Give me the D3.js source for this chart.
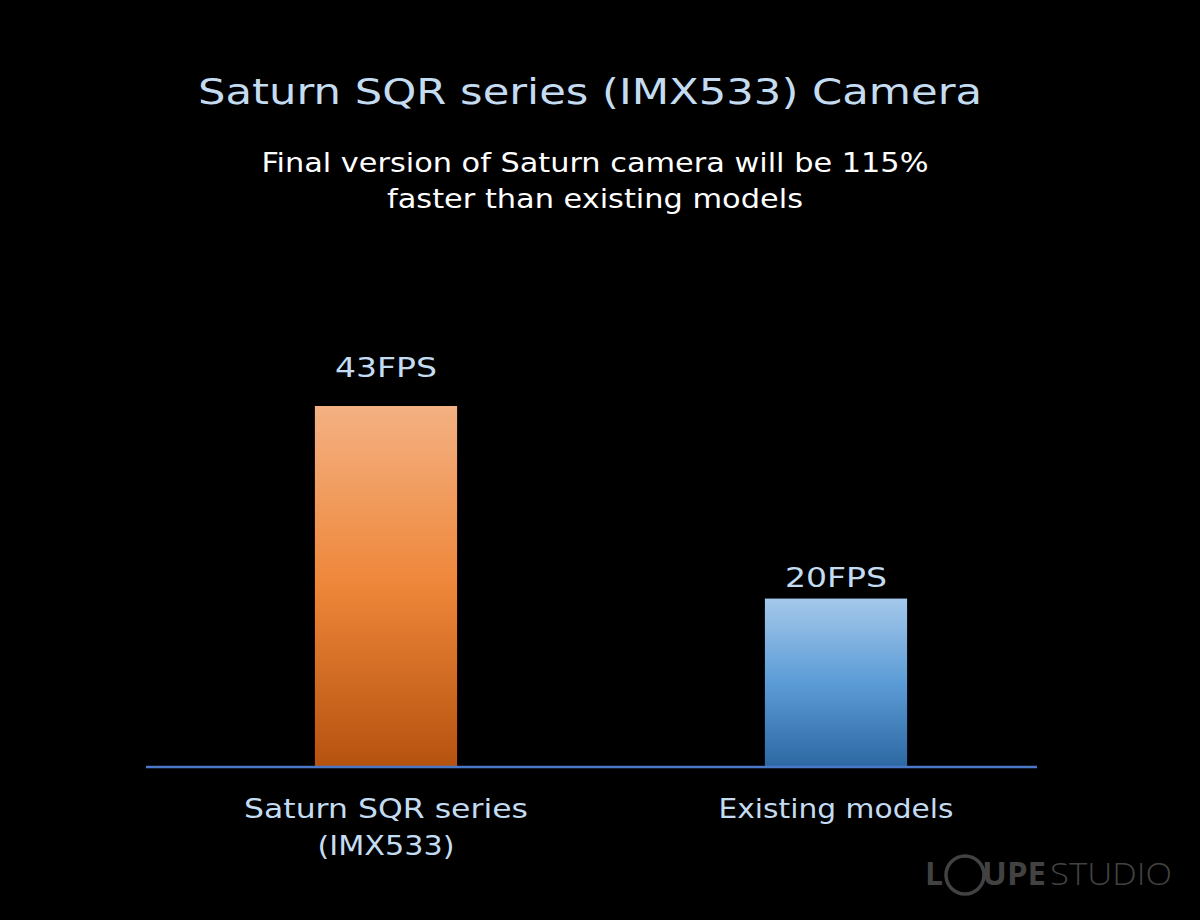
<!DOCTYPE html>
<html><head><meta charset="utf-8">
<script src="https://cdn.jsdelivr.net/npm/d3@7/dist/d3.min.js"></script>
<style>html,body{margin:0;padding:0;background:#000;}svg{display:block;}</style>
</head><body>
<script>
const categories = [["Saturn SQR series", "(IMX533)"], ["Existing models"]];
const categoryKeys = ["Saturn SQR series (IMX533)", "Existing models"];
const values = [43, 20];
const valueLabels = ["43FPS", "20FPS"];
const title = "Saturn SQR series (IMX533) Camera";
const subtitle = ["Final version of Saturn camera will be 115%", "faster than existing models"];

const W = 1200, H = 920;
const svg = d3.select("body").append("svg").attr("width", W).attr("height", H);
svg.append("rect").attr("width", W).attr("height", H).attr("fill", "#000");

const defs = svg.append("defs");
const grads = [
  [["0%", "#f4b183"], ["50%", "#ee8639"], ["100%", "#b5520f"]],
  [["0%", "#a4c8ea"], ["50%", "#5c9cd6"], ["100%", "#2d68a3"]]
];
grads.forEach((g, i) => {
  const lg = defs.append("linearGradient").attr("id", "g" + i)
    .attr("x1", 0).attr("y1", 0).attr("x2", 0).attr("y2", 1);
  g.forEach(s => lg.append("stop").attr("offset", s[0]).attr("stop-color", s[1]));
});

const font = "'DejaVu Sans', sans-serif";
const condFont = "'DejaVu Sans Condensed', 'DejaVu Sans', sans-serif";

// title
svg.append("text").attr("x", 590).attr("y", 104).attr("text-anchor", "middle")
  .attr("font-family", font).attr("font-size", 36).attr("fill", "#c4dcf2")
  .attr("textLength", 784).attr("lengthAdjust", "spacingAndGlyphs").text(title);

svg.append("text").attr("x", 595).attr("y", 172).attr("text-anchor", "middle")
  .attr("font-family", condFont).attr("font-size", 27).attr("fill", "#ffffff")
  .attr("textLength", 667).attr("lengthAdjust", "spacingAndGlyphs").text(subtitle[0]);
svg.append("text").attr("x", 595).attr("y", 208).attr("text-anchor", "middle")
  .attr("font-family", condFont).attr("font-size", 27).attr("fill", "#ffffff")
  .attr("textLength", 416).attr("lengthAdjust", "spacingAndGlyphs").text(subtitle[1]);

const baseY = 766;
const x = d3.scaleBand().domain(categoryKeys).range([161, 1061])
  .paddingInner(0.684).paddingOuter(0.342);
const y = d3.scaleLinear().domain([0, 43]).range([baseY, 406]);

const bars = svg.selectAll("g.bar").data(values).enter().append("g");
bars.append("rect")
  .attr("x", (d, i) => x(categoryKeys[i]))
  .attr("y", d => y(d))
  .attr("width", x.bandwidth())
  .attr("height", d => baseY - y(d))
  .attr("fill", (d, i) => `url(#g${i})`);

const labelGap = [29, 12];
bars.append("text")
  .attr("x", (d, i) => x(categoryKeys[i]) + x.bandwidth() / 2)
  .attr("y", (d, i) => y(d) - labelGap[i])
  .attr("text-anchor", "middle")
  .attr("font-family", font).attr("font-size", 27).attr("fill", "#c4dcf2")
  .attr("textLength", 102).attr("lengthAdjust", "spacingAndGlyphs")
  .text((d, i) => valueLabels[i]);

// axis line
svg.append("line").attr("x1", 146).attr("x2", 1037).attr("y1", baseY + 1).attr("y2", baseY + 1)
  .attr("stroke", "#4a78c8").attr("stroke-width", 2.5);

const catLens = [[284, 137], [235]];
categories.forEach((lines, i) => {
  lines.forEach((ln, j) => {
    svg.append("text")
      .attr("x", x(categoryKeys[i]) + x.bandwidth() / 2 + 0)
      .attr("y", 818 + j * 37)
      .attr("text-anchor", "middle")
      .attr("font-family", font).attr("font-size", 27).attr("fill", "#c4dcf2")
      .attr("textLength", catLens[i][j]).attr("lengthAdjust", "spacingAndGlyphs")
      .text(ln);
  });
});

// watermark
const wm = svg.append("g").attr("opacity", 0.9);
wm.append("text").attr("x", 925).attr("y", 885).attr("font-family", "'Open Sans', sans-serif")
  .attr("font-weight", "bold").attr("font-size", 32).attr("fill", "#4a4a4a").text("L");
wm.append("circle").attr("cx", 965).attr("cy", 875).attr("r", 19)
  .attr("fill", "none").attr("stroke", "#4a4a4a").attr("stroke-width", 3.5);
wm.append("text").attr("x", 982).attr("y", 885).attr("font-family", "'Open Sans', sans-serif")
  .attr("font-weight", "bold").attr("font-size", 32).attr("fill", "#4a4a4a")
  .attr("textLength", 64).attr("lengthAdjust", "spacingAndGlyphs").text("UPE");
wm.append("text").attr("x", 1050).attr("y", 885).attr("font-family", "'Open Sans', sans-serif")
  .attr("font-weight", 300).attr("font-size", 32).attr("fill", "#4a4a4a")
  .attr("textLength", 122).attr("lengthAdjust", "spacingAndGlyphs").text("STUDIO");
</script>
</body></html>
